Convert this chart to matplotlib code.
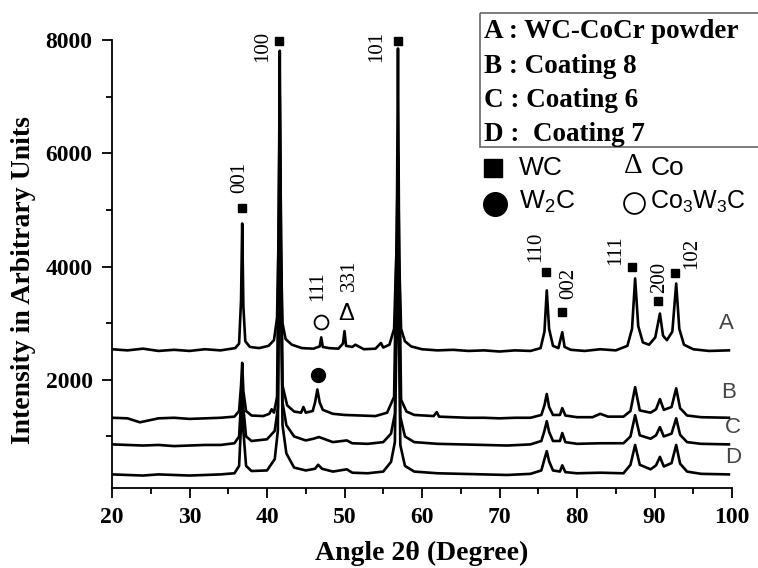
import matplotlib
matplotlib.use('Agg')
import matplotlib.pyplot as plt
import matplotlib.ticker as ticker
from matplotlib.patches import Rectangle

plt.rcParams['font.family'] = ['Liberation Serif', 'DejaVu Serif']

# XRD patterns: (2theta, intensity)
curve_a = [(20, 2540), (22, 2520), (24, 2550), (26, 2510), (28, 2530), (30, 2510),
           (32, 2540), (34, 2520), (35.9, 2560), (36.4, 2640), (36.65, 3400),
           (36.8, 4760), (36.95, 3300), (37.2, 2680), (37.8, 2580), (39.0, 2560),
           (40.2, 2600), (40.9, 2700), (41.3, 3100), (41.5, 4600), (41.65, 7810),
           (41.8, 4300), (42.0, 3000), (42.4, 2720), (43.2, 2620), (44.5, 2560),
           (46.0, 2550), (46.8, 2590), (47.0, 2750), (47.2, 2580), (48.0, 2560),
           (49.2, 2550), (49.8, 2640), (50.0, 2860), (50.2, 2600), (51.0, 2580),
           (51.4, 2620), (52.5, 2540), (54.0, 2550), (54.7, 2650), (55.0, 2570),
           (55.8, 2620), (56.4, 2900), (56.75, 4500), (56.9, 7850), (57.05, 4200),
           (57.3, 2900), (57.8, 2680), (58.6, 2590), (60, 2540), (62, 2520),
           (64, 2530), (66, 2510), (68, 2520), (70, 2500), (72, 2520), (74, 2510),
           (75.3, 2560), (75.8, 2850), (76.1, 3580), (76.4, 2900), (76.9, 2600),
           (77.6, 2560), (78.1, 2840), (78.4, 2580), (79.2, 2530), (81, 2510),
           (83, 2540), (85, 2520), (86.5, 2600), (87.1, 2900), (87.5, 3790),
           (87.9, 2950), (88.5, 2660), (89.3, 2620), (90.1, 2750), (90.7, 3170),
           (91.1, 2780), (91.6, 2700), (92.3, 2850), (92.8, 3700), (93.2, 2900),
           (93.8, 2620), (95, 2540), (97, 2510), (99.6, 2520)]

curve_b = [(20, 1330), (22, 1320), (23.6, 1250), (26, 1320), (28, 1330), (30, 1310),
           (32, 1320), (34, 1330), (35.8, 1350), (36.4, 1450), (36.65, 1900),
           (36.8, 2300), (36.95, 1800), (37.3, 1450), (38, 1370), (39.5, 1360),
           (40.3, 1400), (40.6, 1480), (40.9, 1420), (41.3, 1700), (41.65, 7000),
           (42.0, 1900), (42.6, 1550), (43.5, 1440), (44.4, 1420), (44.7, 1520),
           (45.0, 1420), (45.9, 1450), (46.2, 1600), (46.5, 1830), (46.8, 1600),
           (47.2, 1470), (48.5, 1400), (50, 1380), (52, 1370), (54, 1360),
           (55.5, 1420), (56.4, 1700), (56.9, 6000), (57.3, 1650), (58, 1440),
           (59, 1380), (61.5, 1360), (61.9, 1430), (62.2, 1350), (64, 1340),
           (66, 1330), (68, 1330), (70, 1320), (72, 1330), (74, 1330), (75.4, 1380),
           (75.8, 1550), (76.1, 1750), (76.4, 1520), (76.9, 1380), (77.8, 1380),
           (78.1, 1500), (78.5, 1370), (80, 1340), (82, 1340), (83, 1400), (84, 1350),
           (86, 1350), (86.9, 1450), (87.5, 1870), (88.1, 1460), (89.5, 1420),
           (90.2, 1480), (90.7, 1660), (91.2, 1470), (92.2, 1520), (92.8, 1850),
           (93.3, 1500), (94.2, 1370), (96, 1340), (99.6, 1330)]

curve_c = [(20, 860), (22, 850), (24, 840), (26, 850), (28, 830), (30, 840),
           (32, 850), (34, 850), (35.8, 880), (36.4, 1000), (36.65, 1600),
           (36.8, 2000), (36.95, 1500), (37.3, 1000), (38, 920), (40, 950),
           (41.0, 1100), (41.4, 1500), (41.65, 6000), (42.0, 1600), (42.5, 1200),
           (43.5, 1000), (45, 930), (46.0, 960), (46.7, 990), (47.5, 950),
           (48.5, 900), (50.3, 930), (51, 880), (53, 870), (55, 900), (56.0, 1050),
           (56.5, 1400), (56.9, 5000), (57.2, 1350), (57.8, 1000), (59, 900),
           (62, 870), (65, 860), (68, 850), (71, 840), (74, 860), (75.4, 920),
           (75.8, 1100), (76.1, 1270), (76.4, 1080), (76.9, 920), (77.8, 920),
           (78.1, 1060), (78.5, 900), (80, 870), (83, 880), (86, 880), (86.9, 1000),
           (87.5, 1375), (88.1, 1020), (89.5, 960), (90.2, 1020), (90.7, 1165),
           (91.2, 1000), (92.2, 1050), (92.8, 1320), (93.3, 1030), (94.2, 900),
           (96, 870), (99.6, 860)]

curve_d = [(20, 330), (22, 320), (24, 310), (26, 330), (28, 320), (30, 310),
           (32, 320), (34, 330), (35.8, 350), (36.4, 480), (36.65, 1200),
           (36.8, 1800), (36.95, 1100), (37.3, 480), (38, 390), (40, 400),
           (41.0, 600), (41.4, 1100), (41.65, 5500), (42.0, 1200), (42.5, 700),
           (43.5, 450), (45, 400), (46.2, 430), (46.6, 500), (47.1, 430),
           (48.5, 380), (50.3, 420), (51, 360), (53, 350), (55, 380), (56.0, 550),
           (56.5, 900), (56.9, 4500), (57.2, 850), (57.8, 480), (59, 380),
           (62, 350), (65, 340), (68, 330), (71, 320), (74, 340), (75.4, 400),
           (75.8, 600), (76.1, 740), (76.4, 560), (76.9, 400), (77.8, 380),
           (78.1, 490), (78.5, 370), (80, 350), (83, 360), (86, 350), (86.9, 500),
           (87.5, 850), (88.1, 500), (89.5, 420), (90.2, 490), (90.7, 640),
           (91.2, 470), (92.2, 530), (92.8, 850), (93.3, 520), (94.2, 380),
           (96, 340), (99.6, 330)]

curves = [curve_d, curve_c, curve_b, curve_a]

# WC reflections: (hkl, marker position, label position)
wc_peaks = [("001", (36.8, 5030), (36.5, 5580)),
            ("100", (41.6, 7990), (39.4, 7880)),
            ("101", (56.9, 7990), (54.1, 7880)),
            ("110", (76.0, 3900), (74.7, 4340)),
            ("002", (78.1, 3190), (79.0, 3710)),
            ("111", (87.1, 3990), (85.0, 4290)),
            ("200", (90.5, 3400), (90.7, 3800)),
            ("102", (92.7, 3880), (94.8, 4240))]

curve_labels = ["A", "B", "C", "D"]
curve_label_pos = [(99.3, 3000), (99.5, 1770), (100.1, 1150), (100.1, 620)]

legend_lines = ["A : WC-CoCr powder", "B : Coating 8", "C : Coating 6", "D :  Coating 7"]

fig = plt.figure(figsize=(7.58, 5.68), dpi=100)
ax = fig.add_axes([112 / 758, 80 / 568, 620 / 758, 448 / 568])

for c in curves:
    xs = [p[0] for p in c]
    ys = [p[1] for p in c]
    ax.plot(xs, ys, color='black', linewidth=1.9)

for hkl, (mx, my), (tx, ty) in wc_peaks:
    ax.plot(mx, my, marker='s', color='black', markersize=6, clip_on=False)
    ax.text(tx, ty, hkl, rotation=90, fontsize=15, ha='center', va='center')

# Co3W3C, Co and W2C peaks
ax.plot(47.0, 3020, marker='o', markersize=10, markerfacecolor='white',
        markeredgecolor='black', markeredgewidth=1.3)
ax.text(46.6, 3660, "111", rotation=90, fontsize=15, ha='center', va='center')
ax.text(50.2, 3160, "Δ", fontsize=17, family=['Liberation Sans', 'DejaVu Sans'],
        ha='center', va='center')
ax.text(50.6, 3840, "331", rotation=90, fontsize=15, ha='center', va='center')
ax.plot(46.6, 2080, marker='o', markersize=10, color='black')

for lab, (lx, ly) in zip(curve_labels, curve_label_pos):
    ax.text(lx, ly, lab, fontsize=16, color='#444444', family='Liberation Sans',
            ha='center', va='center')

ax.set_xlim(20, 100)
ax.set_ylim(90, 8000)
ax.xaxis.set_major_locator(ticker.MultipleLocator(10))
ax.xaxis.set_minor_locator(ticker.MultipleLocator(5))
ax.set_yticks([2000, 4000, 6000, 8000])
ax.yaxis.set_minor_locator(ticker.FixedLocator([1000, 3000, 5000, 7000]))
ax.spines['top'].set_visible(False)
ax.spines['right'].set_visible(False)
for s in ['left', 'bottom']:
    ax.spines[s].set_linewidth(1.3)
ax.tick_params(which='major', length=7, width=1.3, labelsize=17, pad=7)
ax.tick_params(which='minor', length=4.5, width=1.3)
for lab in ax.get_xticklabels() + ax.get_yticklabels():
    lab.set_fontweight('bold')

ax.set_xlabel('Angle 2θ (Degree)', fontsize=20, fontweight='bold')
ax.set_ylabel('Intensity in Arbitrary Units', fontsize=20, fontweight='bold')
ax.xaxis.set_label_coords(0.50, -0.118)
ax.yaxis.set_label_coords(-0.122, 0.464)

# legend block drawn in pixel coordinates
ov = fig.add_axes([0, 0, 1, 1])
ov.set_xlim(0, 758)
ov.set_ylim(568, 0)
ov.axis('off')
ov.patch.set_alpha(0)
ov.add_patch(Rectangle((480, 13), 290, 134, fill=False, edgecolor='#666666', linewidth=1.2))
for i, line in enumerate(legend_lines):
    ov.text(484, 32 + i * 34.3, line, fontsize=19.5, fontweight='bold',
            ha='left', va='center')

ov.plot(493, 168, marker='s', color='black', markersize=13)
ov.text(519, 168, "WC", fontsize=19, family='Liberation Sans', ha='left', va='center')
ov.text(633, 166, "Δ", fontsize=21, ha='center', va='center')
ov.text(651, 168, "Co", fontsize=19, family='Liberation Sans', ha='left', va='center')
ov.plot(495, 204, marker='o', color='black', markersize=17)
ov.text(519, 202, "W$_\\mathregular{2}$C", fontsize=19, family='Liberation Sans',
        ha='left', va='center')
ov.plot(634, 203, marker='o', markersize=15, markerfacecolor='white',
        markeredgecolor='black', markeredgewidth=1.3)
ov.text(650, 202, "Co$_\\mathregular{3}$W$_\\mathregular{3}$C", fontsize=18,
        family='Liberation Sans', ha='left', va='center')

fig.savefig('out.png', dpi=100)
